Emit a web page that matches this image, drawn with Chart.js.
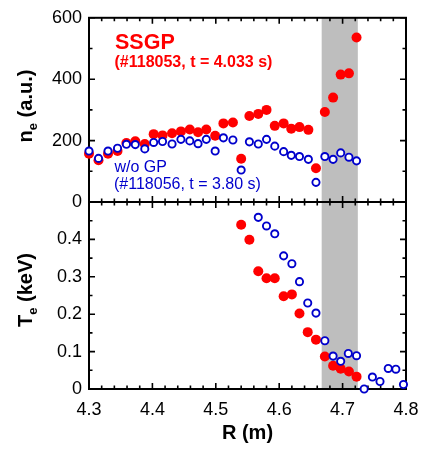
<!DOCTYPE html>
<html>
<head>
<meta charset="utf-8">
<script src="https://cdn.jsdelivr.net/npm/chart.js@4.4.1/dist/chart.umd.min.js"></script>
<style>
  body { margin: 0; background: #fff; }
  #wrap { position: relative; width: 421px; height: 452px; }
  #wrap canvas { position: absolute; left: 0; top: 0; }
</style>
</head>
<body>
<div id="wrap">
  <canvas id="neChart" width="421" height="452"></canvas>
  <canvas id="teChart" width="421" height="452"></canvas>
</div>
<script>
// major radius (m) of the profile points
const neR = [4.300, 4.315, 4.330, 4.345, 4.359, 4.373, 4.388, 4.402, 4.416, 4.431, 4.445, 4.459, 4.472, 4.485, 4.499, 4.512,
  4.527, 4.540, 4.553, 4.567, 4.580, 4.593, 4.607, 4.619, 4.632, 4.646, 4.658, 4.672, 4.685, 4.697, 4.710, 4.722];
// n_e (a.u.)
const ssgpNe = [157, 136, 157, 166, 192, 198, 189, 221, 217, 224, 230, 236, 227, 236, 216, 256,
  259, 141, 280, 287, 300, 248, 256, 239, 244, 235, 110, 293, 340, 415, 419, 536];
const noGpNe = [166, 142, 166, 175, 188, 187, 173, 194, 197, 189, 204, 199, 190, 204, 166, 209,
  202, 104, 196, 189, 204, 182, 164, 152, 148, 139, 64, 148, 139, 160, 146, 134];

// T_e (keV)
const ssgpTeR = [4.540, 4.553, 4.567, 4.580, 4.593, 4.607, 4.620, 4.632, 4.645, 4.658, 4.672, 4.685, 4.697, 4.710, 4.722];
const ssgpTe = [0.439, 0.399, 0.315, 0.296, 0.296, 0.248, 0.253, 0.202, 0.152, 0.132, 0.087, 0.062, 0.054, 0.047, 0.033];
const noGpTeR = [4.567, 4.580, 4.593, 4.607, 4.620, 4.632, 4.645, 4.658, 4.672, 4.685, 4.697, 4.709, 4.722, 4.734,
  4.747, 4.759, 4.772, 4.784, 4.796];
const noGpTe = [0.459, 0.436, 0.415, 0.356, 0.335, 0.287, 0.230, 0.203, 0.129, 0.088, 0.074, 0.095, 0.089, 0.0,
  0.032, 0.020, 0.055, 0.053, 0.012];

// shaded pedestal region
const shadeR = [4.667, 4.724];

const xTickLabels = ['4.3', '4.4', '4.5', '4.6', '4.7', '4.8'];

const RED = '#ff0000';
const BLUE = '#0000cc';
const FONT = '"Liberation Sans", Arial, sans-serif';

const pts = (xs, ys) => xs.map((x, i) => ({ x: x, y: ys[i] }));

const redSet = (data) => ({
  data: data, order: 1, clip: false, showLine: false,
  pointRadius: 5, pointHoverRadius: 5, pointBorderWidth: 0,
  pointBackgroundColor: RED, pointBorderColor: RED
});
const blueSet = (data) => ({
  data: data, order: 0, clip: false, showLine: false,
  pointRadius: 3.6, pointHoverRadius: 3.6, pointBorderWidth: 1.9,
  pointBackgroundColor: '#fff', pointBorderColor: BLUE
});

// draws the grey band, box and inward ticks of one panel
function framePlugin(yStep, yMajor) {
  return {
    id: 'frame',
    beforeDatasetsDraw(chart) {
      const { ctx, chartArea: a, scales: { x, y } } = chart;
      ctx.save();
      ctx.fillStyle = '#bebebe';
      const x0 = x.getPixelForValue(shadeR[0]);
      const x1 = x.getPixelForValue(shadeR[1]);
      ctx.fillRect(x0, a.top, x1 - x0, a.bottom - a.top);

      ctx.strokeStyle = '#000';
      ctx.lineWidth = 1.6;
      ctx.beginPath();
      for (let i = 0; i <= 25; i++) {
        const px = x.getPixelForValue(4.3 + i * 0.02);
        const len = i % 5 === 0 ? 6 : 3.5;
        ctx.moveTo(px, a.top); ctx.lineTo(px, a.top + len);
        ctx.moveTo(px, a.bottom); ctx.lineTo(px, a.bottom - len);
      }
      const n = Math.round((y.max - y.min) / yStep);
      for (let i = 0; i <= n; i++) {
        const v = y.min + i * yStep;
        const py = y.getPixelForValue(v);
        const major = Math.abs(v / yMajor - Math.round(v / yMajor)) < 1e-6;
        const len = major ? 6 : 3.5;
        ctx.moveTo(a.left, py); ctx.lineTo(a.left + len, py);
        ctx.moveTo(a.right, py); ctx.lineTo(a.right - len, py);
      }
      ctx.stroke();

      ctx.lineWidth = 2;
      ctx.strokeRect(a.left, a.top, a.right - a.left, a.bottom - a.top);
      ctx.restore();
    }
  };
}

// rotated y title with a subscript
function drawYTitle(ctx, main, sub, rest, cx, cy) {
  const big = 'bold 20px ' + FONT;
  const small = 'bold 13px ' + FONT;
  ctx.save();
  ctx.font = big;
  const w1 = ctx.measureText(main).width;
  const w3 = ctx.measureText(rest).width;
  ctx.font = small;
  const w2 = ctx.measureText(sub).width;
  const total = w1 + w2 + w3;
  ctx.translate(cx, cy);
  ctx.rotate(-Math.PI / 2);
  ctx.fillStyle = '#000';
  ctx.textBaseline = 'alphabetic';
  let pos = -total / 2;
  ctx.font = big;
  ctx.fillText(main, pos, 0);
  pos += w1;
  ctx.font = small;
  ctx.fillText(sub, pos, 5);
  pos += w2;
  ctx.font = big;
  ctx.fillText(rest, pos, 0);
  ctx.restore();
}

const neLabels = {
  id: 'neLabels',
  afterDraw(chart) {
    const { ctx, chartArea: a } = chart;
    ctx.save();
    ctx.textBaseline = 'alphabetic';
    ctx.fillStyle = RED;
    ctx.font = 'bold 21.5px ' + FONT;
    ctx.fillText('SSGP', a.left + 26, 48.5);
    ctx.font = 'bold 16px ' + FONT;
    ctx.fillText('(#118053, t = 4.033 s)', a.left + 25.5, 66.5);
    ctx.fillStyle = BLUE;
    ctx.font = '16px ' + FONT;
    ctx.fillText('w/o GP', a.left + 25.5, 172);
    ctx.fillText('(#118056, t = 3.80 s)', a.left + 25, 188.5);
    ctx.restore();
    drawYTitle(ctx, 'n', 'e', ' (a.u.)', 32, 106);
  }
};

const teLabels = {
  id: 'teLabels',
  afterDraw(chart) {
    drawYTitle(chart.ctx, 'T', 'e', ' (keV)', 32, 290);
  }
};

const tickFont = { family: FONT, size: 18 };

const yAxisBase = {
  type: 'linear',
  grid: { display: false, drawTicks: false },
  border: { display: false },
  ticks: { font: tickFont, color: '#000', padding: 7 },
  afterFit(scale) { scale.width = 89; }
};

new Chart(document.getElementById('neChart'), {
  type: 'scatter',
  data: { datasets: [redSet(pts(neR, ssgpNe)), blueSet(pts(neR, noGpNe))] },
  options: {
    responsive: false,
    animation: false,
    layout: { padding: { top: 16, right: 15, bottom: 250, left: 0 } },
    plugins: { legend: { display: false }, tooltip: { enabled: false } },
    scales: {
      x: { type: 'linear', min: 4.3, max: 4.8, display: false },
      y: Object.assign({}, yAxisBase, {
        min: 0, max: 600,
        ticks: Object.assign({}, yAxisBase.ticks, { stepSize: 200 })
      })
    }
  },
  plugins: [framePlugin(100, 200), neLabels]
});

new Chart(document.getElementById('teChart'), {
  type: 'scatter',
  data: { datasets: [redSet(pts(ssgpTeR, ssgpTe)), blueSet(pts(noGpTeR, noGpTe))] },
  options: {
    responsive: false,
    animation: false,
    layout: { padding: { top: 202, right: 15, bottom: 0, left: 0 } },
    plugins: { legend: { display: false }, tooltip: { enabled: false } },
    scales: {
      x: {
        type: 'linear', min: 4.3, max: 4.8,
        grid: { display: false, drawTicks: false },
        border: { display: false },
        ticks: {
          font: tickFont, color: '#000', padding: 10, stepSize: 0.1,
          callback: (v) => xTickLabels.find(t => Math.abs(parseFloat(t) - v) < 1e-6) || ''
        },
        title: {
          display: true, text: 'R (m)', color: '#000',
          font: { family: FONT, size: 20, weight: 'bold' },
          padding: { top: 0, bottom: 7 }
        },
        afterFit(scale) {
          scale.height = 63;
          scale.paddingLeft = 0;
          scale.paddingRight = 0;
        }
      },
      y: Object.assign({}, yAxisBase, {
        min: 0, max: 0.5,
        ticks: Object.assign({}, yAxisBase.ticks, {
          stepSize: 0.1,
          callback: (v) => v > 0.45 ? '' : (v === 0 ? '0' : v.toFixed(1))
        })
      })
    }
  },
  plugins: [framePlugin(0.05, 0.1), teLabels]
});
</script>
</body>
</html>
